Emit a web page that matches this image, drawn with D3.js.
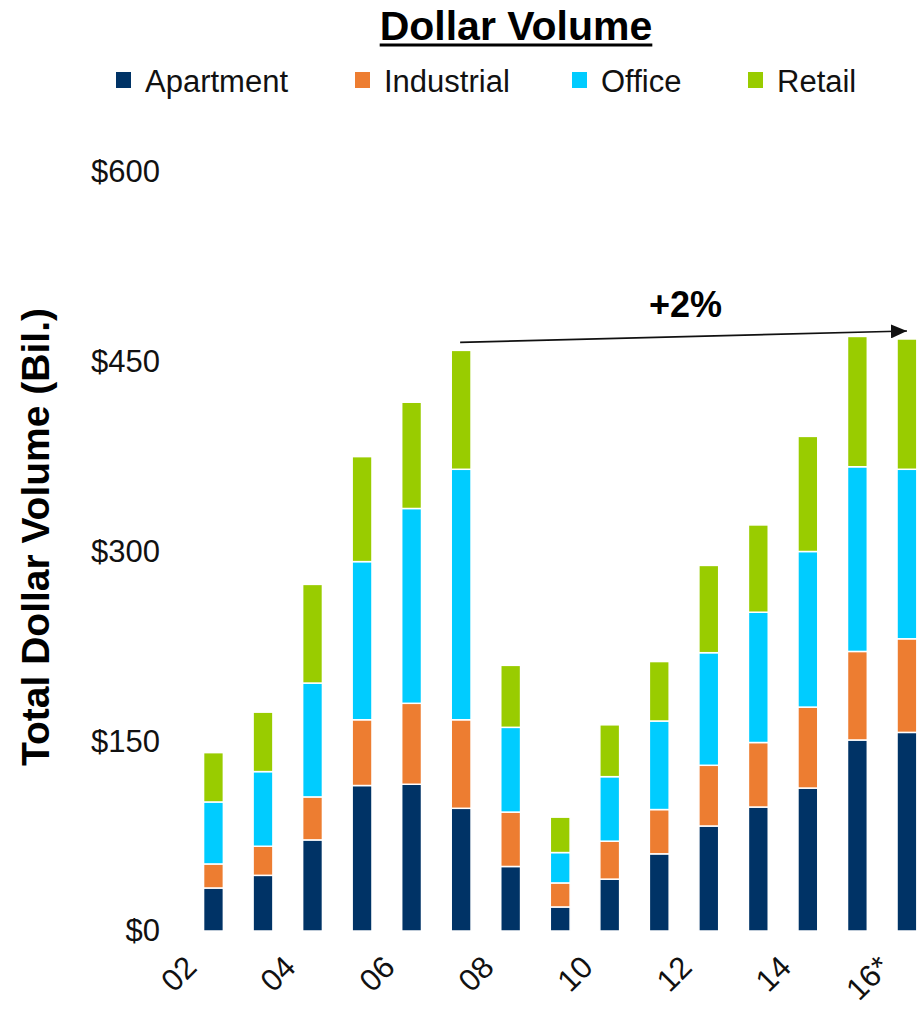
<!DOCTYPE html>
<html>
<head>
<meta charset="utf-8">
<script src="https://cdn.jsdelivr.net/npm/d3@7"></script>
<style>
  html, body { margin: 0; padding: 0; background: #fff; }
  svg { display: block; font-family: "Liberation Sans", Arial, sans-serif; }
</style>
</head>
<body>
<svg id="chart" width="923" height="1015"></svg>
<script>
// Years (20xx); 2016 is an estimate
const years = ["02","03","04","05","06","07","08","09","10","11","12","13","14","15","16*"];
const xTickLabels = ["02","04","06","08","10","12","14","16*"];

// Dollar volume by property type, $ billions
const apartment  = [34, 44, 72, 115, 116, 97, 51, 19, 41, 61, 83, 98, 113, 151, 157];
const industrial = [19, 23, 34, 52, 64, 70, 43, 19, 30, 35, 48, 51, 64, 70, 74];
const office     = [49, 59, 90, 125, 154, 198, 67, 24, 51, 70, 89, 103, 123, 146, 134];
const retail     = [39, 47, 78, 83, 84, 94, 49, 28, 41, 47, 69, 69, 91, 103, 103];

const seriesNames = ["Apartment", "Industrial", "Office", "Retail"];
const seriesColors = ["#003366", "#ED7D31", "#00CCFF", "#99CC00"];
const yTicks = [0, 150, 300, 450, 600];

// Growth callout: 2007 peak vs 2016
const growthFrom = "07";
const growthTo = "16*";
const growthLabel = "+2%";

const svg = d3.select("#chart");

const rows = years.map((yr, i) => ({
  year: yr,
  Apartment: apartment[i],
  Industrial: industrial[i],
  Office: office[i],
  Retail: retail[i]
}));
const stacked = d3.stack().keys(seriesNames)(rows);

const x = d3.scaleBand()
  .domain(years)
  .range([188.7, 931.7])
  .paddingInner(0.6)
  .paddingOuter(0.3);

const y = d3.scaleLinear().domain([0, 600]).range([931, 172]);
const color = d3.scaleOrdinal().domain(seriesNames).range(seriesColors);

// Title
const title = svg.append("text")
  .attr("x", 516).attr("y", 40)
  .attr("text-anchor", "middle")
  .attr("font-size", 41).attr("font-weight", "bold")
  .attr("fill", "#000")
  .text("Dollar Volume");
const tw = title.node().getComputedTextLength();
svg.append("rect")
  .attr("x", 516 - tw / 2).attr("y", 43.5)
  .attr("width", tw).attr("height", 3)
  .attr("fill", "#000");

// Legend
const legendX = [116, 355, 572, 748];
const legend = svg.append("g");
seriesNames.forEach((name, i) => {
  legend.append("rect")
    .attr("x", legendX[i]).attr("y", 72)
    .attr("width", 15).attr("height", 16)
    .attr("fill", color(name));
  legend.append("text")
    .attr("x", legendX[i] + 29).attr("y", 92)
    .attr("font-size", 31).attr("fill", "#111")
    .text(name);
});

// Y axis: labels only
const yAxis = d3.axisLeft(y)
  .tickValues(yTicks)
  .tickSize(0)
  .tickPadding(0)
  .tickFormat(d => "$" + d);
const yg = svg.append("g").attr("transform", "translate(160,0)").call(yAxis);
yg.select(".domain").remove();
yg.selectAll("text")
  .attr("font-size", 31)
  .attr("font-family", "'Liberation Sans', Arial, sans-serif")
  .attr("fill", "#111");

// Y axis title
svg.append("text")
  .attr("transform", "translate(49,537) rotate(-90)")
  .attr("text-anchor", "middle")
  .attr("font-size", 39).attr("font-weight", "bold")
  .attr("fill", "#000")
  .text("Total Dollar Volume (Bil.)");

// Stacked bars
svg.append("g")
  .selectAll("g")
  .data(stacked)
  .join("g")
  .attr("fill", d => color(d.key))
  .selectAll("rect")
  .data(d => d)
  .join("rect")
  .attr("x", d => x(d.data.year))
  .attr("y", d => y(d[1]))
  .attr("width", x.bandwidth())
  .attr("height", d => y(d[0]) - y(d[1]))
  .attr("stroke", "#fff")
  .attr("stroke-width", 1.5);

// X axis: rotated labels for every other year
const xAxis = d3.axisBottom(x)
  .tickValues(xTickLabels)
  .tickSize(0)
  .tickPadding(0);
const xg = svg.append("g").attr("transform", "translate(0,931)").call(xAxis);
xg.select(".domain").remove();
xg.selectAll("text")
  .attr("font-size", 31)
  .attr("font-family", "'Liberation Sans', Arial, sans-serif")
  .attr("fill", "#111")
  .attr("text-anchor", "end")
  .attr("dy", null)
  .attr("transform", "translate(-15,38) rotate(-45)");

// Growth arrow from the 2007 peak to 2016
const total = i => apartment[i] + industrial[i] + office[i] + retail[i];
const iFrom = years.indexOf(growthFrom);
const iTo = years.indexOf(growthTo);
const x1 = x(growthFrom) + x.bandwidth() / 2 - 1;
const y1 = y(total(iFrom)) - 8;
const x2 = x(growthTo) + x.bandwidth() / 2;
const y2 = y(total(iTo)) - 8;

svg.append("defs").append("marker")
  .attr("id", "arrowHead")
  .attr("viewBox", "0 0 16 14")
  .attr("refX", 16).attr("refY", 7)
  .attr("markerWidth", 16).attr("markerHeight", 14)
  .attr("markerUnits", "userSpaceOnUse")
  .attr("orient", "auto")
  .append("path")
  .attr("d", "M0,0 L16,7 L0,14 Z")
  .attr("fill", "#111");

svg.append("line")
  .attr("x1", x1).attr("y1", y1)
  .attr("x2", x2).attr("y2", y2)
  .attr("stroke", "#111")
  .attr("stroke-width", 1.6)
  .attr("marker-end", "url(#arrowHead)");

svg.append("text")
  .attr("x", (x1 + x2) / 2 + 2)
  .attr("y", (y1 + y2) / 2 - 20)
  .attr("text-anchor", "middle")
  .attr("font-size", 36).attr("font-weight", "bold")
  .attr("fill", "#000")
  .text(growthLabel);
</script>
</body>
</html>
